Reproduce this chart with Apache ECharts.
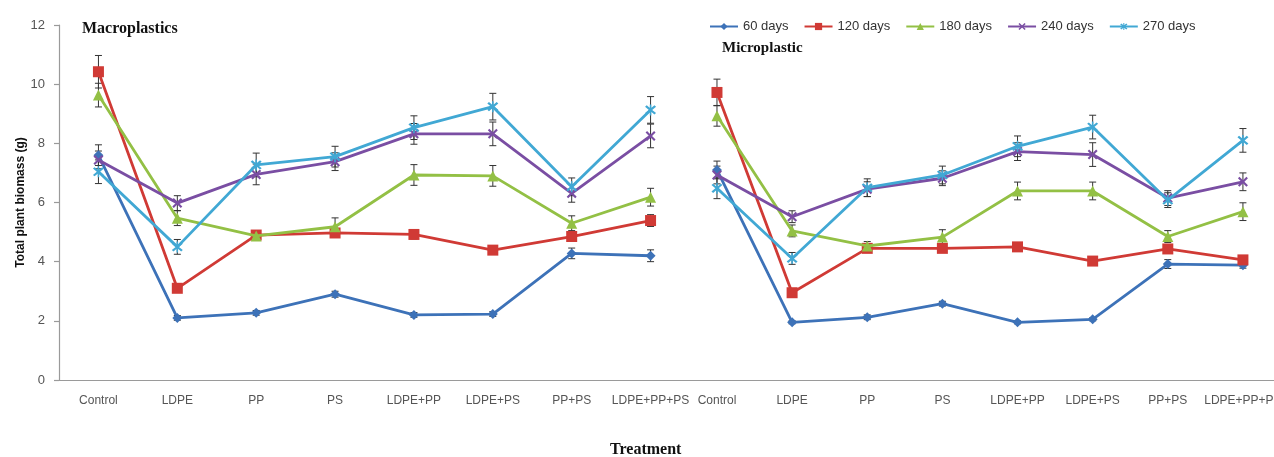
<!DOCTYPE html>
<html>
<head>
<meta charset="utf-8">
<script src="https://cdn.jsdelivr.net/npm/echarts@6/dist/echarts.min.js"></script>
<style>
html,body{margin:0;padding:0;background:#fff;}
#chart{width:1274px;height:457px;}
</style>
</head>
<body>
<div id="chart"></div>
<script>
const categories = ['Control','LDPE','PP','PS','LDPE+PP','LDPE+PS','PP+PS','LDPE+PP+PS'];
const seriesNames = ['60 days','120 days','180 days','240 days','270 days'];
const yTicks = [0, 2, 4, 6, 8, 10, 12];

// Macroplastics (left panel)
const macro60  = [7.6, 2.1, 2.27, 2.9, 2.2, 2.23, 4.28, 4.2];
const macro120 = [10.42, 3.1, 4.9, 4.97, 4.92, 4.39, 4.85, 5.39];
const macro180 = [9.63, 5.47, 4.87, 5.18, 6.93, 6.9, 5.3, 6.18];
const macro240 = [7.44, 5.98, 6.95, 7.38, 8.32, 8.32, 6.31, 8.25];
const macro270 = [7.04, 4.5, 7.27, 7.55, 8.53, 9.24, 6.53, 9.13];
const macroErr60  = [0.35, 0.08, 0.08, 0.1, 0.08, 0.08, 0.18, 0.2];
const macroErr120 = [0.55, 0.12, 0.15, 0.15, 0.15, 0.12, 0.15, 0.2];
const macroErr180 = [0.4, 0.25, 0.15, 0.3, 0.35, 0.35, 0.25, 0.3];
const macroErr240 = [0.3, 0.25, 0.35, 0.3, 0.35, 0.4, 0.3, 0.4];
const macroErr270 = [0.4, 0.25, 0.4, 0.35, 0.4, 0.45, 0.3, 0.45];

// Microplastic (right panel)
const micro60  = [7.1, 1.95, 2.12, 2.58, 1.95, 2.05, 3.92, 3.88];
const micro120 = [9.72, 2.95, 4.45, 4.45, 4.5, 4.02, 4.43, 4.06];
const micro180 = [8.93, 5.04, 4.53, 4.83, 6.39, 6.39, 4.85, 5.69];
const micro240 = [6.93, 5.52, 6.45, 6.82, 7.72, 7.62, 6.15, 6.7];
const micro270 = [6.48, 4.11, 6.5, 6.93, 7.9, 8.55, 6.08, 8.1];
const microErr60  = [0.3, 0.05, 0.08, 0.08, 0.05, 0.05, 0.15, 0.1];
const microErr120 = [0.45, 0.1, 0.12, 0.12, 0.12, 0.12, 0.12, 0.12];
const microErr180 = [0.35, 0.2, 0.15, 0.25, 0.3, 0.3, 0.2, 0.3];
const microErr240 = [0.3, 0.2, 0.25, 0.25, 0.3, 0.4, 0.25, 0.3];
const microErr270 = [0.35, 0.2, 0.3, 0.3, 0.35, 0.4, 0.25, 0.4];

const colors = ['#3d72b8', '#d03a35', '#93c045', '#7a4ea3', '#41a8d4'];
const X_PATH = 'path://M0,1.5L1.5,0L5,3.5L8.5,0L10,1.5L6.5,5L10,8.5L8.5,10L5,6.5L1.5,10L0,8.5L3.5,5Z';
const STAR_PATH = 'path://M0,1.5L1.5,0L5,3.5L8.5,0L10,1.5L6.5,5L10,8.5L8.5,10L5,6.5L1.5,10L0,8.5L3.5,5Z M4.3,-1L5.7,-1L5.7,11L4.3,11Z';
const symbols = ['diamond', 'rect', 'triangle', X_PATH, STAR_PATH];
const symbolSizes = [10, 11, 11, 10, 11];

const macroVals = [macro60, macro120, macro180, macro240, macro270];
const macroErrs = [macroErr60, macroErr120, macroErr180, macroErr240, macroErr270];
const microVals = [micro60, micro120, micro180, micro240, micro270];
const microErrs = [microErr60, microErr120, microErr180, microErr240, microErr270];

const font = '"Liberation Sans", Arial, sans-serif';
const serif = '"Liberation Serif", "Times New Roman", serif';

function errSeries(vals, errs, gi) {
  return {
    type: 'custom',
    xAxisIndex: gi, yAxisIndex: gi,
    silent: true,
    z: 1,
    data: vals.map((v, i) => [i, v - errs[i], v + errs[i]]),
    renderItem: function (params, api) {
      const lo = api.coord([api.value(0), api.value(1)]);
      const hi = api.coord([api.value(0), api.value(2)]);
      const w = 3.5;
      const st = { stroke: '#333', lineWidth: 1 };
      return {
        type: 'group',
        children: [
          { type: 'line', shape: { x1: lo[0], y1: lo[1], x2: hi[0], y2: hi[1] }, style: st },
          { type: 'line', shape: { x1: lo[0] - w, y1: lo[1], x2: lo[0] + w, y2: lo[1] }, style: st },
          { type: 'line', shape: { x1: hi[0] - w, y1: hi[1], x2: hi[0] + w, y2: hi[1] }, style: st }
        ]
      };
    }
  };
}

function lineSeries(vals, k, gi) {
  return {
    name: seriesNames[k],
    type: 'line',
    xAxisIndex: gi, yAxisIndex: gi,
    data: vals,
    symbol: symbols[k],
    symbolSize: symbolSizes[k],
    showAllSymbol: true,
    z: 2 + k,
    lineStyle: { width: 2.8, color: colors[k] },
    itemStyle: { color: colors[k] },
    emphasis: { disabled: true }
  };
}

const series = [];
for (let k = 0; k < 5; k++) {
  series.push(errSeries(macroVals[k], macroErrs[k], 0));
  series.push(errSeries(microVals[k], microErrs[k], 1));
}
for (let k = 0; k < 5; k++) {
  series.push(lineSeries(macroVals[k], k, 0));
  series.push(lineSeries(microVals[k], k, 1));
}

const axisLineStyle = { color: '#9a9a9a', width: 1.2 };
const xLabel = { interval: 0, color: '#555', fontFamily: font, fontSize: 12, margin: 15 };

const chart = echarts.init(document.getElementById('chart'), null, { renderer: 'canvas' });
chart.setOption({
  animation: false,
  backgroundColor: '#fff',
  color: colors,
  legend: {
    data: seriesNames,
    left: 704,
    top: 15,
    itemWidth: 28,
    itemHeight: 9,
    itemGap: 15,
    textStyle: { fontFamily: font, fontSize: 13, color: '#333' }
  },
  graphic: [
    { type: 'text', left: 82, top: 21, style: { text: 'Macroplastics', font: 'bold 16px ' + serif, fill: '#111' } },
    { type: 'text', left: 722, top: 41, style: { text: 'Microplastic', font: 'bold 15px ' + serif, fill: '#111' } },
    { type: 'text', left: 610, top: 442, style: { text: 'Treatment', font: 'bold 16px ' + serif, fill: '#111' } }
  ],
  grid: [
    { left: 59, top: 25, width: 631, height: 355, outerBoundsMode: 'none', containLabel: false },
    { left: 679.4, top: 25, width: 601.1, height: 355, outerBoundsMode: 'none', containLabel: false }
  ],
  xAxis: [
    { type: 'category', gridIndex: 0, data: categories, boundaryGap: true,
      axisLine: { lineStyle: axisLineStyle }, axisTick: { show: false }, axisLabel: xLabel, splitLine: { show: false } },
    { type: 'category', gridIndex: 1, data: categories, boundaryGap: true,
      axisLine: { lineStyle: axisLineStyle }, axisTick: { show: false }, axisLabel: xLabel, splitLine: { show: false } }
  ],
  yAxis: [
    { type: 'value', gridIndex: 0, min: yTicks[0], max: yTicks[yTicks.length - 1], interval: 2,
      name: 'Total plant biomass (g)', nameLocation: 'middle', nameGap: 29, nameRotate: 90,
      nameTextStyle: { fontFamily: font, fontSize: 12, fontWeight: 'bold', color: '#111' },
      axisLine: { show: true, lineStyle: axisLineStyle },
      axisTick: { show: true, length: 5, lineStyle: axisLineStyle },
      axisLabel: { color: '#555', fontFamily: font, fontSize: 13, margin: 14 },
      splitLine: { show: false } },
    { type: 'value', gridIndex: 1, min: 0, max: 12, interval: 2, show: false, splitLine: { show: false } }
  ],
  series: series
});
</script>
</body>
</html>
